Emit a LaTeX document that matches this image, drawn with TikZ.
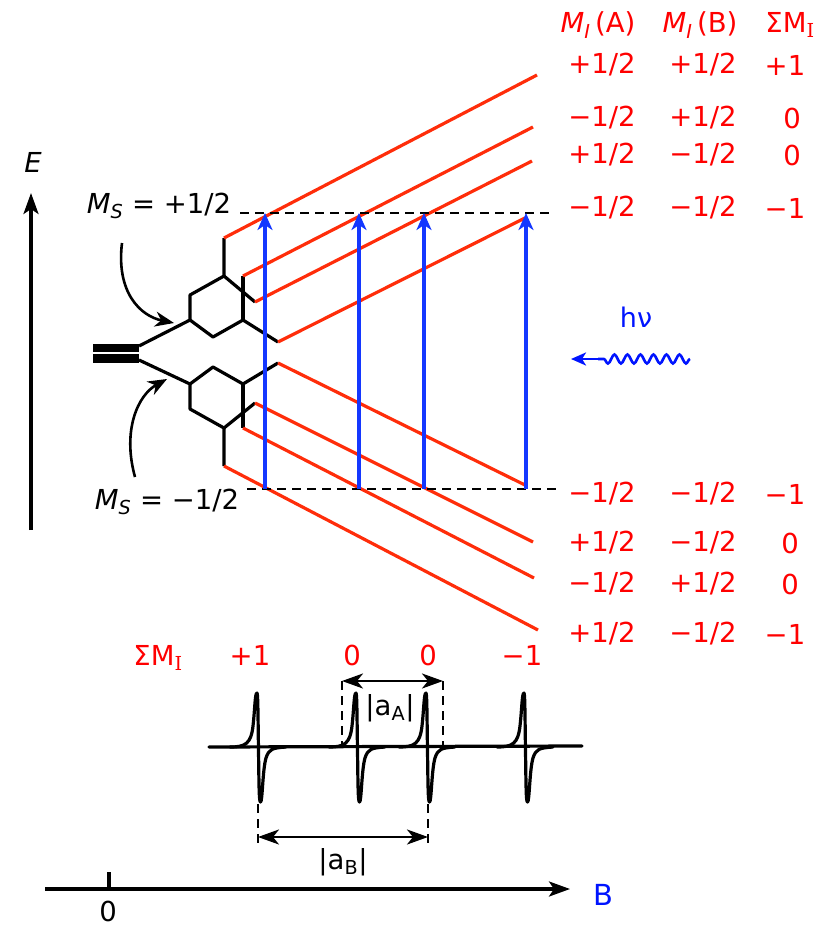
\documentclass[tikz,border=0pt]{standalone}
\usepackage{fontspec}
\setmainfont{DejaVu Sans}
\newfontfamily\serfam{DejaVu Serif}
\usetikzlibrary{arrows.meta,decorations.pathmorphing}
\definecolor{lvlred}{RGB}{255,45,10}
\definecolor{txtred}{RGB}{255,0,0}
\definecolor{trblue}{RGB}{20,55,255}
\definecolor{pureblue}{RGB}{0,20,255}
\begin{document}
\begin{tikzpicture}[x=1pt,y=-1pt,
  lvl/.style={draw=lvlred,line width=3.2pt},
  tree/.style={draw=black,line width=3.2pt,line join=round},
  dlvl/.style={draw=black,line width=2.4pt,dash pattern=on 9pt off 6pt},
  trans/.style={draw=trblue,line width=3.4pt,-{Stealth[length=17pt,width=15pt,inset=5pt]}},
  rtxt/.style={text=txtred,font=\fontsize{27.5}{32}\selectfont,inner sep=0pt},
  btxt/.style={text=black,font=\fontsize{27.5}{32}\selectfont,inner sep=0pt},
  spec/.style={draw=black,line width=3.2pt,line join=round,line cap=round},
  dimline/.style={draw=black,line width=2.6pt,{Stealth[length=21pt,width=15pt,inset=6pt]}-{Stealth[length=21pt,width=15pt,inset=6pt]}},
  vdash/.style={draw=black,line width=2.8pt,dash pattern=on 9pt off 6pt},
  axis/.style={draw=black,line width=3.2pt,-{Stealth[length=21pt,width=15pt,inset=5pt]}},
  curv/.style={draw=black,line width=2.6pt,-{Stealth[length=19pt,width=15pt,inset=6pt]}}
]
\useasboundingbox (0,0) rectangle (837,927);

% ---------- energy axis ----------
\coordinate (Ebot) at (31,530);
\coordinate (Etop) at (31,193);
\draw[axis] (Ebot) -- (Etop);
\node[btxt] (Elab) at (33,162) {\itshape E};

% ---------- tree ----------
\draw[line width=8.5pt] (93,348) -- (139,348);
\draw[line width=8.5pt] (93,358.5) -- (139,358.5);
\coordinate (R1) at (139,346);
\coordinate (R2) at (139,360);
\coordinate (U) at (190,320);
\coordinate (Ua) at (190,295);
\coordinate (Ub) at (224,276);
\coordinate (Uc) at (224,238);
\coordinate (Ud) at (255,302);
\coordinate (Ue) at (213,337);
\coordinate (Uf) at (243,320);
\coordinate (Ug) at (243,276);
\coordinate (Uh) at (278,342);
\coordinate (L) at (190,384);
\coordinate (La) at (190,409);
\coordinate (Lb) at (224,428);
\coordinate (Lc) at (224,466);
\coordinate (Ld) at (255,403);
\coordinate (Le) at (213,367);
\coordinate (Lf) at (243,384);
\coordinate (Lg) at (243,428);
\coordinate (Lh) at (278,363);
\draw[tree] (R1) -- (U) -- (Ua) -- (Ub) -- (Uc);
\draw[tree] (Ub) -- (Ud);
\draw[tree] (U) -- (Ue) -- (Uf) -- (Uh);
\draw[tree] (Uf) -- (Ug);
\draw[tree] (R2) -- (L) -- (La) -- (Lb) -- (Lc);
\draw[tree] (Lb) -- (Ld);
\draw[tree] (L) -- (Le) -- (Lf) -- (Lh);
\draw[tree] (Lf) -- (Lg);

% ---------- red levels ----------
\coordinate (u1) at (537,75);
\coordinate (u2) at (533,127);
\coordinate (u3) at (532,161);
\coordinate (u4) at (525,218);
\coordinate (d1) at (527,486);
\coordinate (d2) at (533,542);
\coordinate (d3) at (534,578);
\coordinate (d4) at (538,630);
\draw[lvl] (Uc) -- (u1);
\draw[lvl] (Ug) -- (u2);
\draw[lvl] (Ud) -- (u3);
\draw[lvl] (Uh) -- (u4);
\draw[lvl] (Lh) -- (d1);
\draw[lvl] (Ld) -- (d2);
\draw[lvl] (Lg) -- (d3);
\draw[lvl] (Lc) -- (d4);

% ---------- dashed MS levels ----------
\coordinate (dsu0) at (240,213);
\coordinate (dsu1) at (552,213);
\coordinate (dsl0) at (247,489);
\coordinate (dsl1) at (556,489);
\draw[dlvl] (dsu0) -- (dsu1);
\draw[dlvl] (dsl0) -- (dsl1);

% ---------- transitions ----------
\foreach \i/\xx in {1/265,2/359,3/424,4/526}{
  \coordinate (tb\i) at (\xx,489);
  \coordinate (tt\i) at (\xx,213);
  \draw[trans] (tb\i) -- (tt\i);
}

% ---------- MS labels ----------
\node[btxt] (msup) at (159,206) {\itshape M\textsubscript{S}\upshape\ = +1/2};
\node[btxt] (msdn) at (167,502) {\itshape M\textsubscript{S}\upshape\ = −1/2};
\coordinate (cu0) at (122,243);
\coordinate (cu1) at (174,323);
\coordinate (cl0) at (135,477);
\coordinate (cl1) at (167,379);
\draw[curv] (cu0) .. controls (116,292) and (140,316) .. (cu1);
\draw[curv] (cl0) .. controls (122,430) and (138,395) .. (cl1);

% ---------- right table ----------
\node[rtxt] (hA) at (598,25) {\itshape M\textsubscript{I}\upshape\,(A)};
\node[rtxt] (hB) at (700,25) {\itshape M\textsubscript{I}\upshape\,(B)};
\node[rtxt] (hS) at (790,25) {ΣM\textsubscript{\serfam I}};
\foreach \n/\yy/\a/\b/\s/\sx in {
  1/65/+1\slash 2/+1\slash 2/+1/785,
  2/118/−1\slash 2/+1\slash 2/0/792,
  3/155/+1\slash 2/−1\slash 2/0/792,
  4/208/−1\slash 2/−1\slash 2/−1/785,
  5/494/−1\slash 2/−1\slash 2/−1/785,
  6/543/+1\slash 2/−1\slash 2/0/790,
  7/584/−1\slash 2/+1\slash 2/0/790,
  8/634/+1\slash 2/−1\slash 2/−1/785}{
  \node[rtxt] (ra\n) at (602,\yy) {\a};
  \node[rtxt] (rb\n) at (703,\yy) {\b};
  \node[rtxt] (rs\n) at (\sx,\yy) {\s};
}

% ---------- h nu ----------
\node[text=pureblue,font=\fontsize{27}{30}\selectfont,inner sep=0pt] (hnu) at (636,317) {hν};
\coordinate (w0) at (690,359);
\coordinate (w1) at (598,359);
\coordinate (w2) at (571,359);
\draw[draw=pureblue,line width=2.6pt,decorate,decoration={snake,amplitude=4.5pt,segment length=13pt}] (w0) -- (w1);
\draw[draw=pureblue,line width=2.6pt,-{Stealth[length=15pt,width=13pt,inset=4pt]}] (w1) -- (w2);

% ---------- spectrum ----------
\node[rtxt] (sumlab) at (158,658) {ΣM\textsubscript{\serfam I}};
\node[rtxt] (p1) at (250,655) {+1};
\node[rtxt] (p2) at (352,655) {0};
\node[rtxt] (p3) at (428,655) {0};
\node[rtxt] (p4) at (522,655) {−1};
\draw[spec] (209,747) -- (582,746);
\foreach \c in {258,357,427,525}{
  \draw[spec] ({\c-28},747) .. controls ({\c-13},747) and ({\c-7},744) .. ({\c-5},726)
    .. controls ({\c-3},708) and ({\c-3},693) .. ({\c-1},693)
    .. controls ({\c},693) and ({\c},720) .. ({\c+0.5},750)
    .. controls ({\c+1},785) and ({\c+1},802) .. ({\c+2.5},802)
    .. controls ({\c+4.5},802) and ({\c+4.5},770) .. ({\c+8},758)
    .. controls ({\c+11},749) and ({\c+14},748) .. ({\c+28},747);
}
% |aA|
\coordinate (aA1t) at (342,681);
\coordinate (aA1b) at (342,747);
\coordinate (aA2t) at (443,681);
\coordinate (aA2b) at (443,747);
\draw[vdash] (aA1t) -- (aA1b);
\draw[vdash] (aA2t) -- (aA2b);
\draw[dimline] (aA1t) -- (aA2t);
\node[btxt] (aAlab) at (390,708) {|a\textsubscript{A}|};
% |aB|
\coordinate (aB1t) at (258,804);
\coordinate (aB1b) at (258,847);
\coordinate (aB2t) at (428,804);
\coordinate (aB2b) at (428,847);
\draw[vdash] (aB1t) -- (aB1b);
\draw[vdash] (aB2t) -- (aB2b);
\coordinate (aBl) at (258,837);
\coordinate (aBr) at (428,837);
\draw[dimline] (aBl) -- (aBr);
\node[btxt] (aBlab) at (343,862) {|a\textsubscript{B}|};

% ---------- B axis ----------
\coordinate (B0) at (45,889);
\coordinate (B1) at (570,889);
\draw[axis] (B0) -- (B1);
\coordinate (tk0) at (109,872);
\coordinate (tk1) at (109,889);
\draw[draw=black,line width=3.2pt] (tk0) -- (tk1);
\node[btxt] (zero) at (108,911) {0};
\node[text=pureblue,font=\fontsize{29}{32}\selectfont,inner sep=0pt] (Blab) at (603,895) {B};
\end{tikzpicture}
\end{document}
